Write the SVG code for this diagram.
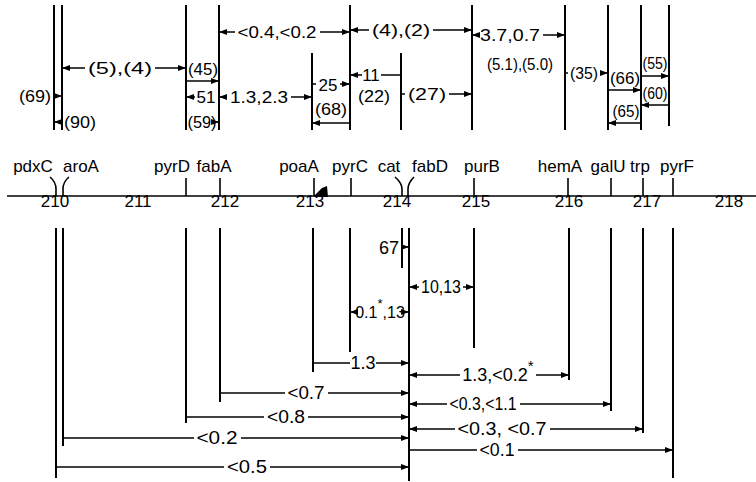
<svg xmlns="http://www.w3.org/2000/svg" width="756" height="482" viewBox="0 0 756 482">
<style>
text{font-family:"Liberation Sans",Arial,sans-serif;fill:#000;text-anchor:middle}
.g{font-size:17px}
.n{font-size:17px}
.d{font-size:17px}
.b{font-size:18px}
.v{stroke:#000;stroke-width:2;fill:none}
.t{stroke:#000;stroke-width:1.6;fill:none}
.a{stroke:#000;stroke-width:1.5;fill:none}
.s{stroke:#000;stroke-width:1.5;fill:none;marker-start:url(#ah)}
.e{stroke:#000;stroke-width:1.5;fill:none;marker-end:url(#ah)}
</style>
<defs>
<marker id="ah" viewBox="0 0 8 6" refX="8" refY="3" markerWidth="8" markerHeight="6" markerUnits="userSpaceOnUse" orient="auto-start-reverse"><path d="M0,0 L8,3 L0,6 z" fill="#000"/></marker>
</defs>
<rect width="756" height="482" fill="#fff"/>

<g id="axis">
<line class="t" x1="7" y1="196" x2="756" y2="196"/>
<text class="n" x="55" y="207">210</text>
<text class="n" x="138" y="207">211</text>
<text class="n" x="225" y="207">212</text>
<text class="n" x="310" y="207">213</text>
<text class="n" x="397" y="207">214</text>
<text class="n" x="476" y="207">215</text>
<text class="n" x="569" y="207">216</text>
<text class="n" x="647" y="207">217</text>
<text class="n" x="729" y="207">218</text>
</g>

<g id="pdxC">
<text class="g" x="33" y="172">pdxC</text>
<path class="t" d="M50,177 Q56,182 56,189 L56,196"/>
<line class="v" x1="54" y1="5" x2="54" y2="130"/>
<line class="v" x1="56" y1="228" x2="56" y2="478"/>
</g>
<g id="aroA">
<text class="g" x="81" y="172">aroA</text>
<path class="t" d="M69,177 Q63,182 63,189 L63,196"/>
<line class="v" x1="62" y1="5" x2="62" y2="130"/>
<line class="v" x1="63" y1="228" x2="63" y2="446"/>
</g>
<g id="pyrD">
<text class="g" x="172" y="172">pyrD</text>
<line class="t" x1="186" y1="178" x2="186" y2="196"/>
<line class="v" x1="186" y1="5" x2="186" y2="130"/>
<line class="v" x1="186" y1="228" x2="186" y2="423"/>
</g>
<g id="fabA">
<text class="g" x="214" y="172">fabA</text>
<line class="t" x1="220" y1="178" x2="220" y2="196"/>
<line class="v" x1="219" y1="5" x2="219" y2="130"/>
<line class="v" x1="220" y1="228" x2="220" y2="402"/>
</g>
<g id="poaA">
<text class="g" x="299" y="172">poaA</text>
<line class="t" x1="314" y1="178" x2="314" y2="196"/>
<polygon points="314,196 322,188 327,186 328,197 314,197" fill="#000"/>
<line class="v" x1="312" y1="53" x2="312" y2="130"/>
<line class="v" x1="313" y1="228" x2="313" y2="372"/>
</g>
<g id="pyrC">
<text class="g" x="350" y="172">pyrC</text>
<line class="t" x1="351" y1="178" x2="351" y2="196"/>
<line class="v" x1="350" y1="5" x2="350" y2="130"/>
<line class="v" x1="350" y1="228" x2="350" y2="352"/>
</g>
<g id="cat">
<text class="g" x="389" y="172">cat</text>
<path class="t" d="M395,177 Q402,183 402,189 L402,196"/>
<line class="v" x1="401" y1="53" x2="401" y2="130"/>
<line class="v" x1="402" y1="228" x2="402" y2="268"/>
</g>
<g id="fabD">
<text class="g" x="430" y="172">fabD</text>
<path class="t" d="M414,177 Q408,183 408,189 L408,196"/>
<line class="v" x1="409" y1="228" x2="409" y2="481"/>
</g>
<g id="purB">
<text class="g" x="482" y="172">purB</text>
<line class="t" x1="474" y1="178" x2="474" y2="196"/>
<line class="v" x1="472" y1="5" x2="472" y2="130"/>
<line class="v" x1="474" y1="228" x2="474" y2="348"/>
</g>
<g id="hemA">
<text class="g" x="560" y="172">hemA</text>
<line class="t" x1="568" y1="178" x2="568" y2="196"/>
<line class="v" x1="565" y1="5" x2="565" y2="130"/>
<line class="v" x1="569" y1="228" x2="569" y2="380"/>
</g>
<g id="galU">
<text class="g" x="608" y="172">galU</text>
<line class="t" x1="611" y1="178" x2="611" y2="196"/>
<line class="v" x1="608" y1="5" x2="608" y2="130"/>
<line class="v" x1="611" y1="228" x2="611" y2="411"/>
</g>
<g id="trp">
<text class="g" x="640" y="172">trp</text>
<line class="t" x1="643" y1="178" x2="643" y2="196"/>
<line class="v" x1="641" y1="5" x2="641" y2="130"/>
<line class="v" x1="643" y1="228" x2="643" y2="433"/>
</g>
<g id="pyrF">
<text class="g" x="677" y="172">pyrF</text>
<line class="t" x1="673" y1="178" x2="673" y2="196"/>
<line class="v" x1="669" y1="5" x2="669" y2="126"/>
<line class="v" x1="673" y1="228" x2="673" y2="478"/>
</g>

<g id="connectors">
<line class="e" x1="54" y1="96" x2="62" y2="96"/>
<text class="d" x="35" y="102" textLength="32" lengthAdjust="spacingAndGlyphs">(69)</text>
<line class="e" x1="62" y1="122" x2="54" y2="122"/>
<text class="d" x="80" y="128" textLength="32" lengthAdjust="spacingAndGlyphs">(90)</text>
<line class="s" x1="62" y1="68" x2="85" y2="68"/>
<line class="e" x1="155" y1="68" x2="186" y2="68"/>
<text class="d" x="120" y="74" textLength="64" lengthAdjust="spacingAndGlyphs">(5),(4)</text>
<line class="e" x1="186" y1="81" x2="219" y2="81"/>
<text class="d" x="203" y="75" textLength="30" lengthAdjust="spacingAndGlyphs">(45)</text>
<line class="e" x1="195" y1="97" x2="186" y2="97"/>
<text class="d" x="206" y="103">51</text>
<line class="e" x1="212" y1="122" x2="219" y2="122"/>
<text class="d" x="202" y="128" textLength="29" lengthAdjust="spacingAndGlyphs">(59)</text>
<line class="s" x1="219" y1="97" x2="227" y2="97"/>
<line class="e" x1="291" y1="97" x2="312" y2="97"/>
<text class="d" x="259" y="103" textLength="58" lengthAdjust="spacingAndGlyphs">1.3,2.3</text>
<line class="s" x1="219" y1="32" x2="235" y2="32"/>
<line class="e" x1="320" y1="32" x2="350" y2="32"/>
<text class="d" x="277" y="38" textLength="79" lengthAdjust="spacingAndGlyphs">&lt;0.4,&lt;0.2</text>
<line class="a" x1="312" y1="84" x2="316" y2="84"/>
<line class="e" x1="340" y1="84" x2="350" y2="84"/>
<text class="d" x="328" y="91">25</text>
<line class="s" x1="312" y1="123" x2="350" y2="123"/>
<text class="d" x="331" y="115" textLength="32" lengthAdjust="spacingAndGlyphs">(68)</text>
<line class="e" x1="362" y1="75" x2="350" y2="75"/>
<line class="a" x1="381" y1="75" x2="401" y2="75"/>
<text class="d" x="371" y="81">11</text>
<text class="d" x="374" y="102" textLength="32" lengthAdjust="spacingAndGlyphs">(22)</text>
<line class="a" x1="401" y1="94" x2="405" y2="94"/>
<line class="e" x1="449" y1="94" x2="472" y2="94"/>
<text class="d" x="427" y="100" textLength="38" lengthAdjust="spacingAndGlyphs">(27)</text>
<line class="s" x1="350" y1="30" x2="369" y2="30"/>
<line class="e" x1="433" y1="30" x2="472" y2="30"/>
<text class="d" x="401" y="36" textLength="58" lengthAdjust="spacingAndGlyphs">(4),(2)</text>
<line class="s" x1="472" y1="35" x2="477" y2="35"/>
<line class="e" x1="543" y1="35" x2="565" y2="35"/>
<text class="d" x="510" y="41" textLength="60" lengthAdjust="spacingAndGlyphs">3.7,0.7</text>
<text class="d" x="520" y="70" textLength="66" lengthAdjust="spacingAndGlyphs">(5.1),(5.0)</text>
<line class="a" x1="565" y1="73" x2="568" y2="73"/>
<line class="e" x1="600" y1="73" x2="608" y2="73"/>
<text class="d" x="584" y="79" textLength="28" lengthAdjust="spacingAndGlyphs">(35)</text>
<line class="e" x1="608" y1="90" x2="641" y2="90"/>
<text class="d" x="625" y="84" textLength="30" lengthAdjust="spacingAndGlyphs">(66)</text>
<line class="e" x1="641" y1="76" x2="669" y2="76"/>
<text class="d" x="655" y="69" textLength="25" lengthAdjust="spacingAndGlyphs">(55)</text>
<line class="e" x1="669" y1="105" x2="641" y2="105"/>
<text class="d" x="655" y="99" textLength="25" lengthAdjust="spacingAndGlyphs">(60)</text>
<line class="e" x1="641" y1="123" x2="608" y2="123"/>
<text class="d" x="626" y="117" textLength="27" lengthAdjust="spacingAndGlyphs">(65)</text>

<line class="e" x1="402" y1="247" x2="409" y2="247"/>
<text class="b" x="389" y="254">67</text>
<line class="s" x1="409" y1="287" x2="419" y2="287"/>
<line class="e" x1="463" y1="287" x2="474" y2="287"/>
<text class="b" x="441" y="293" textLength="40" lengthAdjust="spacingAndGlyphs">10,13</text>
<line class="s" x1="350" y1="312" x2="355" y2="312"/>
<line class="e" x1="404" y1="312" x2="409" y2="312"/>
<text style="font-size:16px" x="380" y="318">0.1<tspan dy="-10" font-size="13">*</tspan><tspan dy="10">,13</tspan></text>
<line class="a" x1="313" y1="363" x2="350" y2="363"/>
<line class="e" x1="376" y1="363" x2="409" y2="363"/>
<text class="b" x="363" y="369">1.3</text>
<line class="s" x1="409" y1="375" x2="460" y2="375"/>
<line class="e" x1="536" y1="375" x2="569" y2="375"/>
<text class="b" x="498" y="381">1.3,&lt;0.2<tspan dy="-10" font-size="15">*</tspan></text>
<line class="a" x1="220" y1="393" x2="285" y2="393"/>
<line class="e" x1="328" y1="393" x2="409" y2="393"/>
<text class="b" x="306" y="399" textLength="37" lengthAdjust="spacingAndGlyphs">&lt;0.7</text>
<line class="s" x1="409" y1="404" x2="447" y2="404"/>
<line class="e" x1="520" y1="404" x2="611" y2="404"/>
<text class="b" x="483" y="410" textLength="67" lengthAdjust="spacingAndGlyphs">&lt;0.3,&lt;1.1</text>
<line class="a" x1="186" y1="417" x2="264" y2="417"/>
<line class="e" x1="308" y1="417" x2="409" y2="417"/>
<text class="b" x="286" y="423" textLength="38" lengthAdjust="spacingAndGlyphs">&lt;0.8</text>
<line class="s" x1="409" y1="429" x2="455" y2="429"/>
<line class="e" x1="550" y1="429" x2="643" y2="429"/>
<text class="b" x="502" y="435" textLength="89" lengthAdjust="spacingAndGlyphs">&lt;0.3, &lt;0.7</text>
<line class="a" x1="63" y1="438" x2="194" y2="438"/>
<line class="e" x1="241" y1="438" x2="409" y2="438"/>
<text class="b" x="217" y="444" textLength="41" lengthAdjust="spacingAndGlyphs">&lt;0.2</text>
<line class="a" x1="409" y1="450" x2="477" y2="450"/>
<line class="e" x1="518" y1="450" x2="673" y2="450"/>
<text class="b" x="497" y="456" textLength="35" lengthAdjust="spacingAndGlyphs">&lt;0.1</text>
<line class="a" x1="56" y1="467" x2="224" y2="467"/>
<line class="e" x1="270" y1="467" x2="409" y2="467"/>
<text class="b" x="247" y="473" textLength="40" lengthAdjust="spacingAndGlyphs">&lt;0.5</text>
</g>
</svg>
